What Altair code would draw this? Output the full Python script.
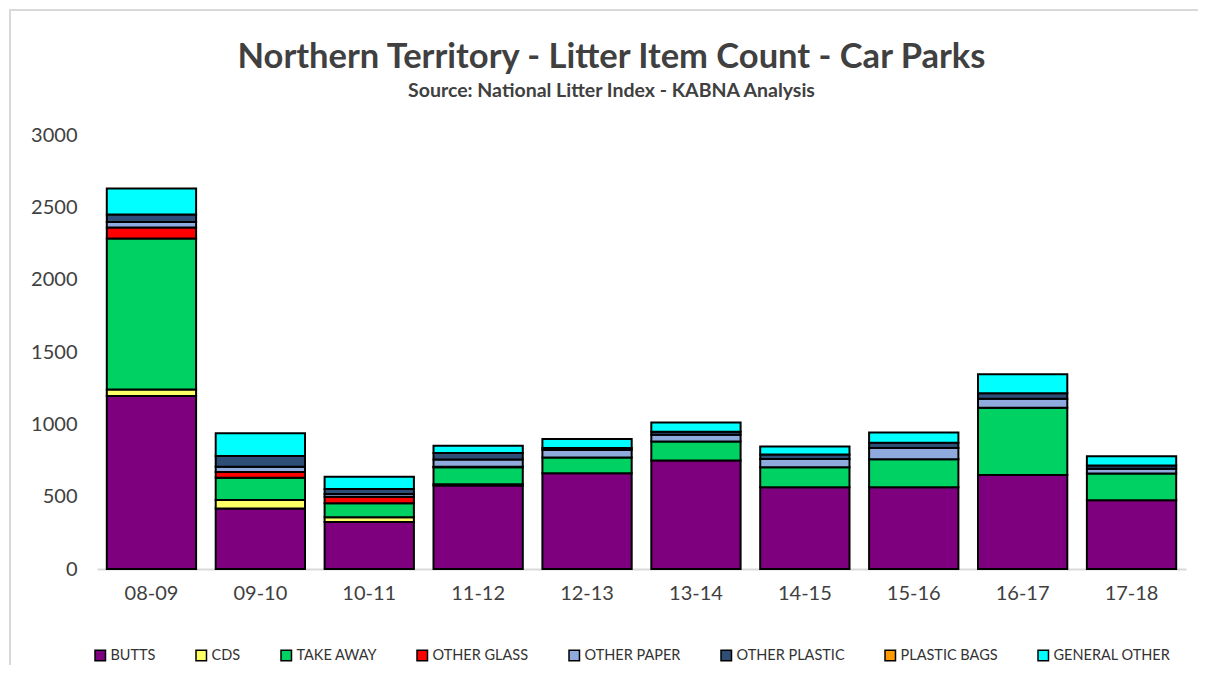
import altair as alt
import pandas as pd

years = ["08-09", "09-10", "10-11", "11-12", "12-13", "13-14", "14-15", "15-16", "16-17", "17-18"]
categories = ["BUTTS", "CDS", "TAKE AWAY", "OTHER GLASS", "OTHER PAPER", "OTHER PLASTIC", "PLASTIC BAGS", "GENERAL OTHER"]
colors = ["#7F007F", "#FFFF66", "#00D163", "#FF0000", "#8FAADC", "#2E4E78", "#FF9900", "#00FFFF"]

butts = [1195, 419, 325, 578, 662, 750, 565, 565, 650, 475]
cds = [45, 58, 32, 8, 0, 0, 0, 0, 0, 0]
take_away = [1045, 154, 97, 118, 108, 131, 138, 193, 465, 186]
other_glass = [75, 39, 46, 3, 0, 0, 0, 0, 0, 0]
other_paper = [38, 37, 18, 50, 53, 47, 58, 78, 62, 32]
other_plastic = [52, 74, 35, 45, 14, 20, 30, 36, 37, 22]
plastic_bags = [0, 0, 0, 0, 0, 0, 0, 0, 0, 0]
general_other = [180, 157, 85, 50, 62, 65, 55, 72, 133, 64]

series = [butts, cds, take_away, other_glass, other_paper, other_plastic, plastic_bags, general_other]

rows = []
for ci, (cat, vals) in enumerate(zip(categories, series)):
    for y, v in zip(years, vals):
        rows.append({"year": y, "category": cat, "count": v, "order": ci})
df = pd.DataFrame(rows)

FONT = "Lato"

bars = (
    alt.Chart(df)
    .transform_filter("datum.count > 0")
    .mark_bar(stroke="black", strokeWidth=2)
    .encode(
        x=alt.X(
            "year:N",
            sort=years,
            title=None,
            scale=alt.Scale(paddingInner=0.18, paddingOuter=0.09),
            axis=alt.Axis(
                labelAngle=0,
                labelFontSize=20,
                labelColor="#404040",
                labelFont=FONT,
                labelPadding=14,
                ticks=False,
                grid=False,
                domainColor="#D9D9D9",
                domainWidth=2,
            ),
        ),
        y=alt.Y(
            "count:Q",
            stack="zero",
            title=None,
            scale=alt.Scale(domain=[0, 3000], nice=False),
            axis=alt.Axis(
                values=[0, 500, 1000, 1500, 2000, 2500, 3000],
                format="d",
                labelFontSize=20,
                labelColor="#404040",
                labelFont=FONT,
                labelPadding=20,
                ticks=False,
                domain=False,
                grid=False,
            ),
        ),
        color=alt.Color(
            "category:N",
            scale=alt.Scale(domain=categories, range=colors),
            sort=categories,
            legend=alt.Legend(
                title=None,
                orient="none",
                legendX=-4,
                legendY=513,
                direction="horizontal",
                columns=8,
                symbolType="square",
                symbolSize=110,
                symbolStrokeColor="black",
                symbolStrokeWidth=1.5,
                labelFontSize=14.5,
                labelFont=FONT,
                labelColor="#333333",
                labelOffset=3,
                columnPadding=37,
            ),
        ),
        order=alt.Order("order:Q", sort="ascending"),
    )
)

frame = alt.Chart(df).mark_rect(fill=None, stroke="#D9D9D9", strokeWidth=2).encode(
    x=alt.value(-87), x2=alt.value(1120), y=alt.value(-125), y2=alt.value(560)
)

chart = (
    alt.layer(frame, bars)
    .properties(
        width=1089,
        height=434,
        view=alt.ViewBackground(stroke="transparent", strokeWidth=0),
        title=alt.TitleParams(
            text="Northern Territory - Litter Item Count - Car Parks",
            subtitle="Source: National Litter Index - KABNA Analysis",
            font=FONT,
            fontSize=34.5,
            fontWeight="bold",
            color="#404040",
            subtitleFont=FONT,
            subtitleFontSize=19.5,
            subtitleFontWeight="bold",
            subtitleColor="#404040",
            subtitlePadding=6,
            anchor="middle",
            offset=-92,
            dx=-30,
        ),
        autosize=alt.AutoSizeParams(type="none"),
        padding={"left": 89, "top": 127, "right": 12, "bottom": 96},
    )
    .configure_view(stroke="transparent", strokeWidth=0)
    .configure(background="white")
)

chart.save("out.html", embed_options={"renderer": "svg", "actions": False})
